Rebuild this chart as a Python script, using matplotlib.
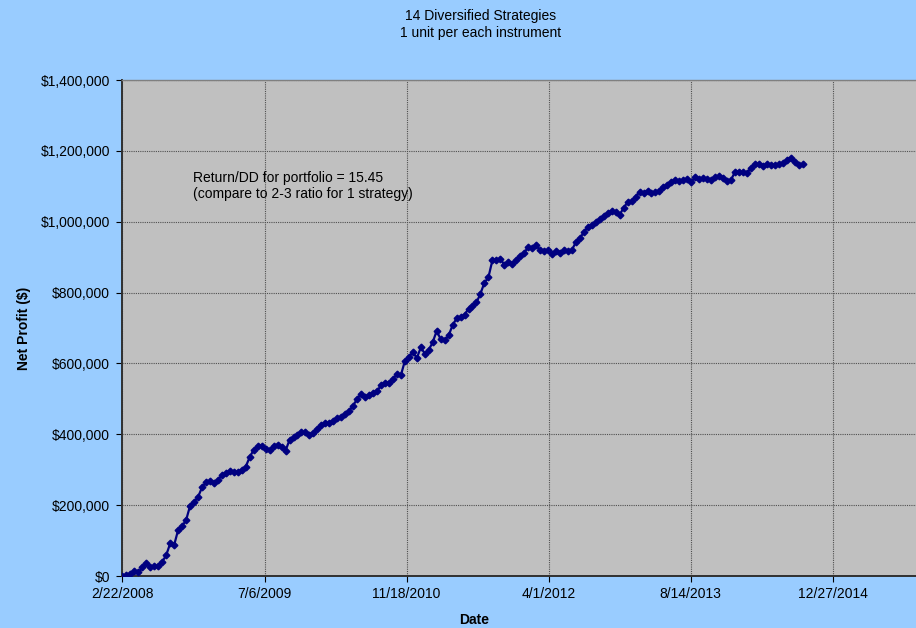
import numpy as np
import pandas as pd
from matplotlib import pyplot as plt
from matplotlib.ticker import FuncFormatter

plt.rcParams['font.family'] = ['Liberation Sans', 'DejaVu Sans']

### data

start = '2008-02-22'
step_days = 14

# net profit in $ thousands, one reading every two weeks from the start date
profit_k = [
    0, 3, 7, 13, 10, 24, 36, 26, 29, 28,
    40, 59, 92, 88, 130, 141, 158, 198, 209, 223,
    250, 264, 267, 262, 271, 285, 291, 296, 294, 294,
    299, 309, 336, 356, 367, 367, 358, 356, 368, 371,
    363, 354, 384, 391, 398, 406, 406, 398, 403, 415,
    426, 432, 433, 438, 445, 450, 457, 467, 481, 500,
    514, 504, 511, 517, 521, 539, 546, 546, 557, 569,
    567, 607, 618, 632, 615, 645, 628, 638, 660, 692,
    668, 665, 679, 708, 727, 730, 738, 754, 761, 772,
    797, 828, 843, 891, 893, 896, 878, 886, 881, 892,
    902, 912, 929, 926, 933, 920, 916, 920, 909, 918,
    913, 920, 917, 920, 943, 954, 970, 986, 991, 999,
    1007, 1016, 1025, 1030, 1027, 1020, 1039, 1055, 1059, 1071,
    1084, 1082, 1087, 1081, 1084, 1088, 1097, 1105, 1112, 1119,
    1115, 1118, 1121, 1113, 1125, 1121, 1123, 1121, 1118, 1126,
    1129, 1122, 1115, 1118, 1141, 1141, 1139, 1137, 1152, 1163,
    1163, 1157, 1162, 1160, 1159, 1163, 1167, 1174, 1181, 1169,
    1160, 1163,
]

x_ticks = ['2/22/2008', '7/6/2009', '11/18/2010', '4/1/2012', '8/14/2013', '12/27/2014']
x_end = '2015-10-16'
y_ticks = [0, 200000, 400000, 600000, 800000, 1000000, 1200000, 1400000]

title = '14 Diversified Strategies\n1 unit per each instrument'
note = 'Return/DD for portfolio = 15.45\n(compare to 2-3 ratio for 1 strategy)'

dates = pd.date_range(start, periods=len(profit_k), freq='%dD' % step_days)
profit = np.array(profit_k) * 1000.0

### figure

fig = plt.figure(figsize=(9.16, 6.28), dpi=100, facecolor='#99CCFF')
ax = fig.add_axes([0.1337, 0.0828, 0.8663, 0.7898], facecolor='#C0C0C0')

ax.plot(dates, profit, color='#000080', lw=1.6, marker='D', ms=3.4,
        mec='#000080', mfc='#000080', zorder=3)

ax.set_xlim(pd.Timestamp(start), pd.Timestamp(x_end))
ax.set_ylim(0, 1400000)
ax.set_xticks([pd.Timestamp(t) for t in x_ticks])
ax.set_xticklabels(x_ticks)
ax.set_yticks(y_ticks)
ax.yaxis.set_major_formatter(FuncFormatter(lambda v, p: '${:,.0f}'.format(v)))

ax.grid(True, color='#505050', linestyle=(0, (1, 1)), linewidth=0.8, zorder=1)
ax.tick_params(axis='both', labelsize=10, length=4, width=0.8, color='black', direction='out')
ax.tick_params(axis='y', pad=5)
ax.tick_params(axis='x', pad=4)

for side in ['left', 'bottom']:
    ax.spines[side].set_color('#303030')
    ax.spines[side].set_linewidth(1.4)
ax.spines['top'].set_color('#808080')
ax.spines['top'].set_linewidth(1.0)
ax.spines['right'].set_visible(False)

ax.set_ylabel('Net Profit ($)', fontsize=10, fontweight='bold')
ax.yaxis.set_label_coords(-0.115, 0.5)
ax.set_xlabel('Date', fontsize=10, fontweight='bold')
ax.xaxis.set_label_coords(0.443, -0.074)

fig.text(0.525, 0.986, title, ha='center', va='top', fontsize=10, linespacing=1.25)
ax.text(0.0888, 0.817, note, transform=ax.transAxes, fontsize=10,
        va='top', ha='left', linespacing=1.2)

fig.savefig('out.png', dpi=100, facecolor=fig.get_facecolor())
